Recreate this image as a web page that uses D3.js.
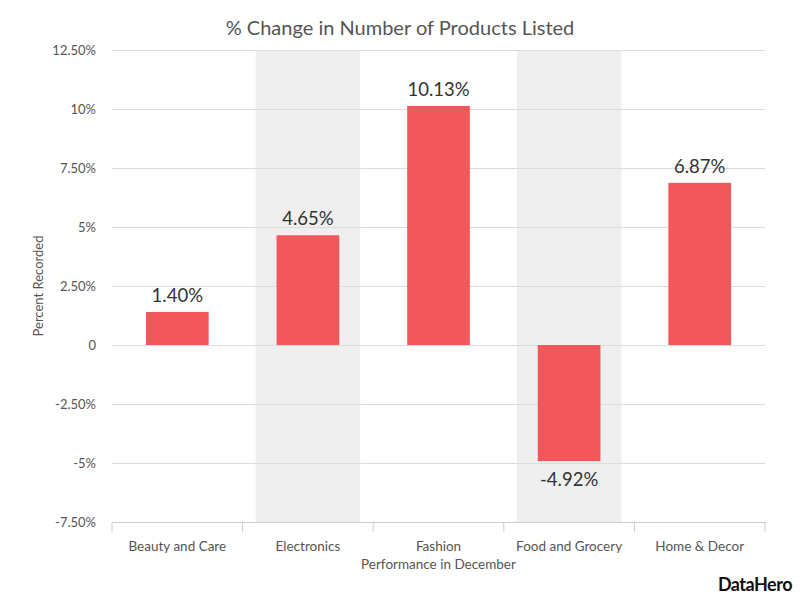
<!DOCTYPE html>
<html>
<head>
<meta charset="utf-8">
<script src="https://cdn.jsdelivr.net/npm/d3@7"></script>
<style>
  body { margin: 0; background: #fff; }
  text { font-family: Lato, "Open Sans", sans-serif; }
</style>
</head>
<body>
<div id="chart"></div>
<script>
const categories = ["Beauty and Care", "Electronics", "Fashion", "Food and Grocery", "Home & Decor"]
const values = [1.40, 4.65, 10.13, -4.92, 6.87]
const yTicks = [12.5, 10, 7.5, 5, 2.5, 0, -2.5, -5, -7.5]
const shaded = ["Electronics", "Food and Grocery"]

const W = 800, H = 600
const MARGIN = { TOP: 50, BOTTOM: 78, LEFT: 112, RIGHT: 35 }

const svg = d3.select("#chart").append("svg")
  .attr("width", W)
  .attr("height", H)

const x = d3.scaleBand()
  .domain(categories)
  .range([MARGIN.LEFT, W - MARGIN.RIGHT])

const y = d3.scaleLinear()
  .domain([-7.5, 12.5])
  .range([H - MARGIN.BOTTOM, MARGIN.TOP])

const fmt = d => d === 0 ? "0" : (Number.isInteger(d) ? d + "%" : d.toFixed(2) + "%")

// shaded bands
svg.selectAll(".band")
  .data(shaded)
  .enter().append("rect")
    .attr("x", d => x(d) + x.bandwidth() * 0.1)
    .attr("y", MARGIN.TOP)
    .attr("width", x.bandwidth() * 0.8)
    .attr("height", y(-7.5) - MARGIN.TOP)
    .attr("fill", "#efefef")

// gridlines + y labels
const yAxis = d3.axisLeft(y)
  .tickValues(yTicks)
  .tickFormat(fmt)
  .tickSize(-(W - MARGIN.LEFT - MARGIN.RIGHT))
  .tickPadding(18)

svg.append("g")
  .attr("transform", `translate(${MARGIN.LEFT}, 0)`)
  .call(yAxis)
  .call(g => g.select(".domain").remove())
  .call(g => g.selectAll(".tick line").attr("stroke", "#dcdcdc"))
  .call(g => g.selectAll(".tick text")
    .attr("x", -16)
    .attr("fill", "#555")
    .style("font-size", "13px"))

// bars
svg.selectAll(".bar")
  .data(values)
  .enter().append("rect")
    .attr("x", (d, i) => x(categories[i]) + x.bandwidth() * 0.26)
    .attr("y", d => y(Math.max(0, d)))
    .attr("width", x.bandwidth() * 0.48)
    .attr("height", d => Math.abs(y(d) - y(0)))
    .attr("fill", "#f2575c")

// value labels
svg.selectAll(".val")
  .data(values)
  .enter().append("text")
    .attr("x", (d, i) => x(categories[i]) + x.bandwidth() / 2)
    .attr("y", d => d >= 0 ? y(d) - 10 : y(d) + 25)
    .attr("text-anchor", "middle")
    .attr("fill", "#333")
    .style("font-size", "18.5px")
    .text(d => d.toFixed(2) + "%")

// x axis
const xAxis = d3.axisBottom(x)
  .tickSize(0)
  .tickPadding(19)

const gx = svg.append("g")
  .attr("transform", `translate(0, ${y(-7.5)})`)
  .call(xAxis)
gx.select(".domain").attr("stroke", "#ccc")
gx.selectAll(".tick text")
  .attr("fill", "#555")
  .style("font-size", "13.5px")

const edges = categories.map(c => x(c)).concat([x.range()[1]])
gx.selectAll(".edge")
  .data(edges)
  .enter().append("line")
    .attr("x1", d => d).attr("x2", d => d)
    .attr("y1", 0).attr("y2", 10)
    .attr("stroke", "#ccc")

// titles
svg.append("text")
  .attr("x", W / 2)
  .attr("y", 35)
  .attr("text-anchor", "middle")
  .attr("fill", "#555")
  .style("font-size", "20px")
  .text("% Change in Number of Products Listed")

svg.append("text")
  .attr("x", (MARGIN.LEFT + W - MARGIN.RIGHT) / 2)
  .attr("y", 569)
  .attr("text-anchor", "middle")
  .attr("fill", "#555")
  .style("font-size", "13.5px")
  .text("Performance in December")

svg.append("text")
  .attr("transform", `translate(43, ${(MARGIN.TOP + H - MARGIN.BOTTOM) / 2}) rotate(-90)`)
  .attr("text-anchor", "middle")
  .attr("fill", "#555")
  .style("font-size", "13px")
  .text("Percent Recorded")

svg.append("text")
  .attr("x", 792)
  .attr("y", 591)
  .attr("text-anchor", "end")
  .attr("fill", "#111")
  .style("font-size", "18px")
  .style("font-weight", "bold")
  .style("letter-spacing", "-0.5px")
  .text("DataHero")
</script>
</body>
</html>
